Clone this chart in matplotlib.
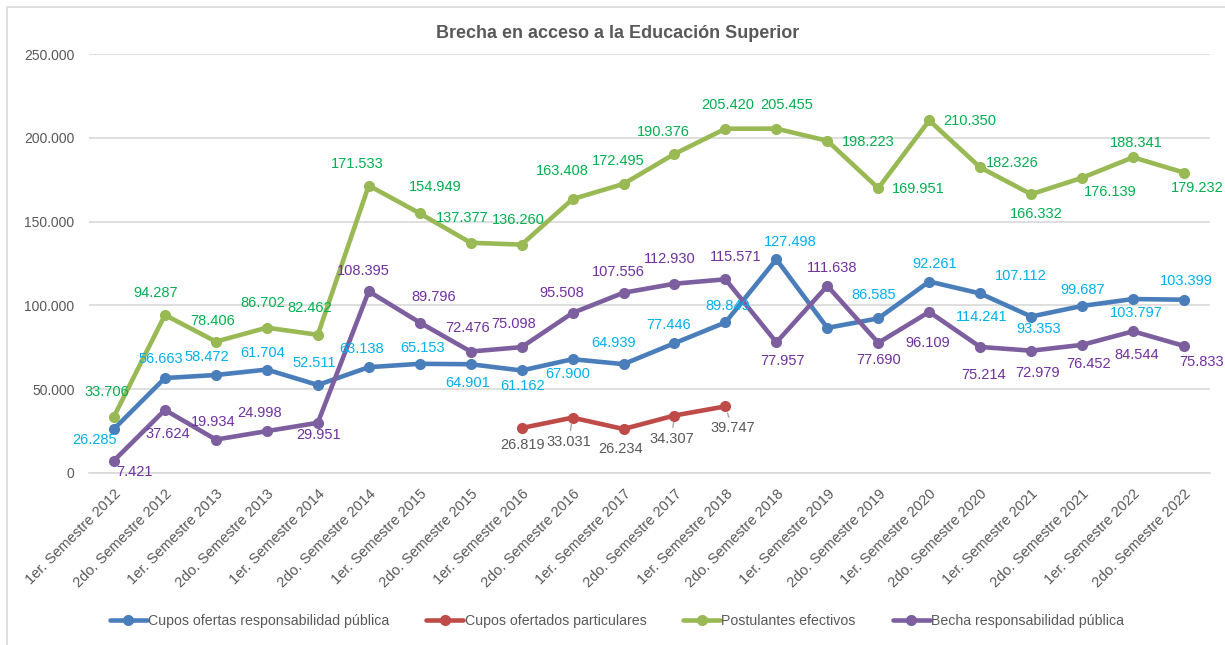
import matplotlib
matplotlib.use("Agg")
import matplotlib.pyplot as plt
from matplotlib.patches import Rectangle
from matplotlib.ticker import FuncFormatter

plt.rcParams['font.family'] = ['Liberation Sans', 'DejaVu Sans']

semestres = [
    "1er. Semestre 2012", "2do. Semestre 2012", "1er. Semestre 2013", "2do. Semestre 2013",
    "1er. Semestre 2014", "2do. Semestre 2014", "1er. Semestre 2015", "2do. Semestre 2015",
    "1er. Semestre 2016", "2do. Semestre 2016", "1er. Semestre 2017", "2do. Semestre 2017",
    "1er. Semestre 2018", "2do. Semestre 2018", "1er. Semestre 2019", "2do. Semestre 2019",
    "1er. Semestre 2020", "2do. Semestre 2020", "1er. Semestre 2021", "2do. Semestre 2021",
    "1er. Semestre 2022", "2do. Semestre 2022",
]

cupos_publica = [26285, 56663, 58472, 61704, 52511, 63138, 65153, 64901, 61162, 67900, 64939,
                 77446, 89849, 127498, 86585, 92261, 114241, 107112, 93353, 99687, 103797, 103399]
# particulares only reported from 1er. Semestre 2016 to 1er. Semestre 2018
cupos_particulares = [26819, 33031, 26234, 34307, 39747]
particulares_desde = 8
postulantes = [33706, 94287, 78406, 86702, 82462, 171533, 154949, 137377, 136260, 163408, 172495,
               190376, 205420, 205455, 198223, 169951, 210350, 182326, 166332, 176139, 188341, 179232]
brecha_publica = [7421, 37624, 19934, 24998, 29951, 108395, 89796, 72476, 75098, 95508, 107556,
                  112930, 115571, 77957, 111638, 77690, 96109, 75214, 72979, 76452, 84544, 75833]

series_names = ["Cupos ofertas responsabilidad pública", "Cupos ofertados particulares",
                "Postulantes efectivos", "Becha responsabilidad pública"]

# label offsets in pixels (right, down) from each marker
off_publica = [(-19, 11), (-4, -19), (-9, -18), (-4, -17), (-4, -22), (-7, -18), (3, -16), (-3, 19),
               (1, 16), (-5, 15), (-10, -21), (-6, -18), (2, -16), (14, -17), (46, -33), (56, -54),
               (52, 35), (41, -17), (8, 12), (1, -16), (3, 14), (2, -19)]
off_partic = [(1, 17), (-4, 24), (-3, 20), (-3, 23), (7, 22)]
off_postul = [(-7, -25), (-9, -22), (-3, -21), (-4, -25), (-8, -27), (-11, -22), (16, -26), (-8, -25),
              (-3, -25), (-10, -28), (-5, -23), (-11, -22), (2, -24), (10, -24), (41, 1), (40, 1),
              (41, 1), (32, -4), (5, 20), (28, 14), (3, -14), (13, 15)]
off_brecha = [(21, 11), (3, 24), (-3, -18), (-7, -18), (1, 12), (-5, -20), (14, -26), (-3, -24),
              (-8, -23), (-11, -20), (-5, -21), (-5, -25), (10, -22), (6, 19), (5, -18), (0, 17),
              (-2, 31), (3, 28), (6, 22), (6, 19), (4, 24), (18, 16)]
leader_partic = [False, True, False, True, True]


def miles(v, pos=None):
    return f"{int(round(v)):,}".replace(",", ".")


fig = plt.figure(figsize=(12.25, 6.45), dpi=100)
ax = fig.add_axes([88.5 / 1225, 1 - 473 / 645, 1121 / 1225, 419 / 645])

# chart area border
fig.patches.append(Rectangle((7 / 1225, -0.05), 1.2, 1.05 - 7 / 645, transform=fig.transFigure,
                             fill=False, edgecolor='#d9d9d9', linewidth=1.2, zorder=0))

x = list(range(len(semestres)))
x_part = x[particulares_desde:particulares_desde + len(cupos_particulares)]

lines = [
    (x, cupos_publica, '#4a7ebb', '#00b0f0', off_publica),
    (x_part, cupos_particulares, '#be4b48', '#595959', off_partic),
    (x, postulantes, '#98b954', '#00b050', off_postul),
    (x, brecha_publica, '#7d5fa0', '#7030a0', off_brecha),
]

handles = []
for k, (xs, ys, col, lcol, offs) in enumerate(lines):
    h, = ax.plot(xs, ys, color=col, linewidth=3.3, marker='o', markersize=7,
                 solid_capstyle='round', label=series_names[k], zorder=3)
    handles.append(h)
    for i, (xi, yi) in enumerate(zip(xs, ys)):
        dx, dy = offs[i]
        arrow = None
        if k == 1 and leader_partic[i]:
            arrow = dict(arrowstyle='-', color='#a6a6a6', lw=1, shrinkA=1, shrinkB=5)
        ax.annotate(miles(yi), (xi, yi), xytext=(dx, -dy), textcoords='offset pixels',
                    ha='center', va='center', fontsize=10.5, color=lcol,
                    arrowprops=arrow, zorder=4)

ax.set_xlim(-0.5, len(semestres) - 0.5)
ax.set_ylim(0, 250000)
ax.set_yticks(range(0, 250001, 50000))
ax.yaxis.set_major_formatter(FuncFormatter(miles))
ax.grid(axis='y', color='#d9d9d9', linewidth=1.2)
ax.set_axisbelow(True)
for s in ['left', 'right', 'top']:
    ax.spines[s].set_visible(False)
ax.spines['bottom'].set_color('#d9d9d9')
ax.spines['bottom'].set_linewidth(1.2)
ax.tick_params(axis='both', length=0, colors='#595959', labelsize=10)
ax.tick_params(axis='y', pad=10)
ax.tick_params(axis='x', pad=10)
ax.set_xticks(x)
ax.set_xticklabels(semestres, rotation=45, ha='right', rotation_mode='anchor', fontsize=10.5)

fig.text(618 / 1225, 1 - 33 / 645, "Brecha en acceso a la Educación Superior", ha='center',
         va='center', fontsize=13, fontweight='bold', color='#595959')

fig.legend(handles=handles, loc='center', bbox_to_anchor=(617 / 1225, 1 - 621 / 645), ncol=4,
           frameon=False, fontsize=10.2, labelcolor='#595959', handlelength=2.6,
           handletextpad=0.1, columnspacing=2.6)

fig.savefig('out.png', dpi=100, facecolor='white')
